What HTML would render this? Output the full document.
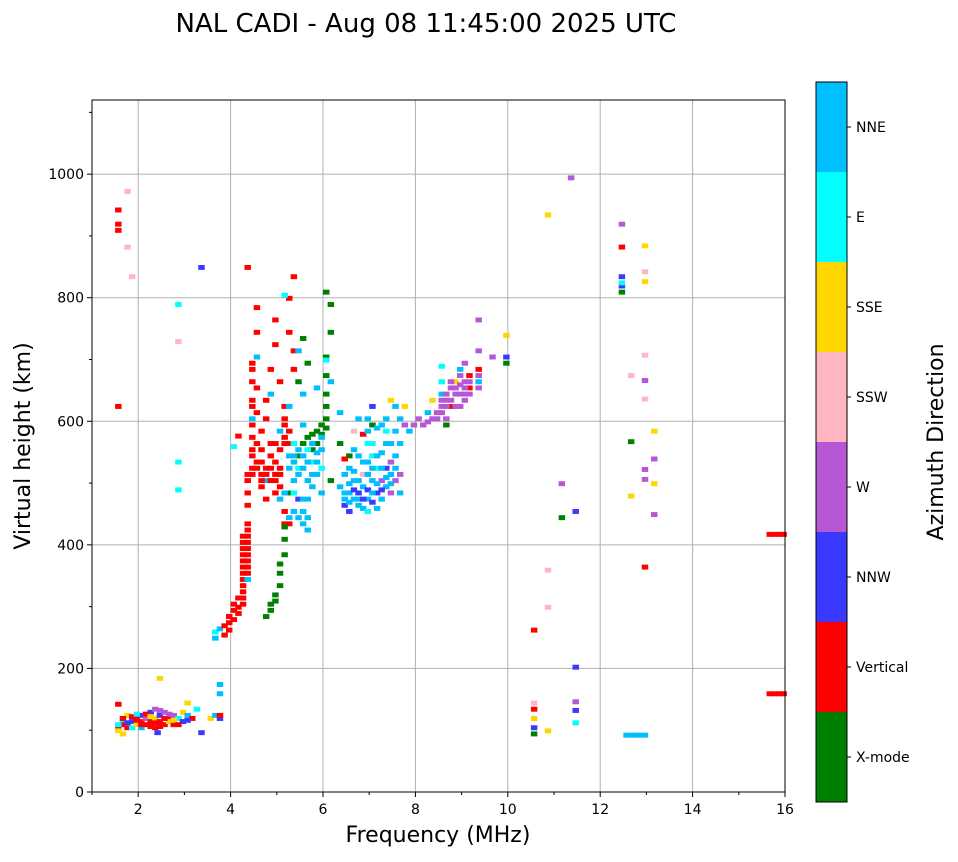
<!DOCTYPE html>
<html><head><meta charset="utf-8"><style>
body{margin:0;background:#fff;font-family:"Liberation Sans","DejaVu Sans",sans-serif;}
svg text{font-family:"DejaVu Sans","Liberation Sans",sans-serif;}
</style></head><body>
<svg id="chart" width="958" height="857" xmlns="http://www.w3.org/2000/svg">
<text x="426" y="32" font-size="26" text-anchor="middle">NAL CADI - Aug 08 11:45:00 2025 UTC</text>
<g id="grid"></g>
<g id="marks"></g>
<rect x="92" y="100" width="693" height="692" fill="none" stroke="#000" stroke-width="1"/>
<g id="axes"></g>
<text x="438" y="842" font-size="22" text-anchor="middle">Frequency (MHz)</text>
<text transform="translate(30,446) rotate(-90)" font-size="22" text-anchor="middle">Virtual height (km)</text>
<g id="cbar"></g>
<text transform="translate(943,442) rotate(-90)" font-size="22" text-anchor="middle">Azimuth Direction</text>
</svg>
<script>
const xTicks=[2,4,6,8,10,12,14,16];
const yTicks=[0,200,400,600,800,1000];
const categories=["X-mode","Vertical","NNW","W","SSW","SSE","E","NNE"];
const colors=["#008000","#ff0000","#3a3aff","#b657d6","#ffb6c1","#ffd700","#00ffff","#00bfff"];
const echoes=[
[1.5,100,1],[1.5,95,5],[1.6,110,6],[1.6,105,1],[1.7,100,1],[1.7,120,5],[1.8,110,2],[1.8,100,6],[1.9,115,1],[1.9,105,5],[2.0,110,1],[2.0,120,2],[2.1,105,1],[2.1,115,3],[2.2,110,1],[2.2,125,2],[2.3,100,1],[2.3,115,5],[2.3,130,3],[2.4,110,1],[2.4,120,2],[2.5,105,1],[2.5,125,3],[2.6,115,1],[2.6,110,5],[2.7,120,3],[2.7,105,1],[2.8,115,6],[2.9,125,5],[2.9,110,2],[3.0,140,5],[3.0,120,7],[3.1,115,1],[3.2,130,6],[3.3,92,2],[3.5,115,5],[3.6,120,7],[3.7,115,2],[3.7,120,1],[2.0,100,7],[1.6,90,5],[3.7,170,7],[3.7,155,7],[2.4,180,5],[1.5,138,1],
[1.6,115,1],[1.7,108,2],[1.8,118,1],[1.9,112,1],[2.0,105,1],[2.1,122,1],[2.2,102,1],[2.3,108,1],[2.4,102,1],[2.5,115,1],[2.6,122,3],[2.7,112,5],[2.8,105,1],[2.2,118,5],[1.9,122,6],[2.4,128,3],[3.0,112,2],[1.5,105,6],[2.35,92,2],
[1.5,938,1],[1.5,915,1],[1.5,905,1],[1.5,620,1],[1.7,968,4],[1.8,830,4],[1.7,878,4],[2.8,785,6],[2.8,725,4],[2.8,530,6],[2.8,485,6],[3.3,845,2],
[3.6,245,7],[3.6,255,6],[3.7,260,7],[3.8,250,1],[3.8,265,1],[3.9,270,1],[3.9,280,1],[4.0,290,1],[4.0,300,1],[4.1,295,1],[4.1,310,1],[4.2,320,1],[4.2,340,1],[4.2,360,1],[4.2,380,1],[4.2,400,1],[4.3,350,1],[4.3,370,1],[4.3,390,1],[4.3,410,1],[4.3,340,7],[4.3,430,1],[4.3,460,1],[4.3,500,1],[4.0,555,6],[4.1,572,1],[4.4,520,1],[4.4,540,1],[4.4,590,1],[4.4,620,1],[4.4,660,1],[4.4,690,1],[4.5,650,1],[4.5,700,7],[4.5,740,1],[4.5,780,1],[4.4,600,7],[4.5,560,1],[4.6,510,1],[4.6,530,1],[4.6,490,1],[4.7,470,1],[4.7,500,7],[4.7,520,1],[4.7,600,1],[4.7,630,1],[4.8,540,1],[4.8,500,1],[4.8,640,7],[4.8,680,1],[4.9,480,1],[4.9,510,1],[4.9,560,1],[4.9,720,1],[4.9,760,1],[5.0,520,1],[5.0,550,1],[5.0,470,7],[5.0,580,7],[5.0,660,1],[5.1,430,1],[5.1,450,1],[5.1,560,1],[5.1,600,1],[5.1,620,1],[5.2,440,7],[5.2,580,1],[5.2,740,1],[5.2,795,1],[5.3,830,1],[5.3,710,1],[5.3,680,1],[4.3,845,1],
[3.9,258,1],[4.0,275,1],[4.1,285,1],[4.2,300,1],[4.2,310,1],[4.2,330,1],[4.2,350,1],[4.2,370,1],[4.2,390,1],[4.2,410,1],[4.3,360,1],[4.3,380,1],[4.3,400,1],[4.3,420,1],[4.3,480,1],[4.3,510,1],[4.4,550,1],[4.4,570,1],[4.4,630,1],[4.4,680,1],[4.4,510,1],[4.5,610,1],[4.5,530,1],[4.6,550,1],[4.6,500,1],[4.7,510,1],[4.8,520,1],[4.9,530,1],[4.9,500,1],[5.0,510,1],[5.0,490,1],[5.1,570,1],[5.1,590,1],[5.2,560,1],[5.2,430,1],[4.5,520,1],[4.6,580,1],[4.8,560,1],
[4.7,280,0],[4.8,290,0],[4.9,305,0],[4.9,315,0],[5.0,330,0],[5.0,350,0],[5.1,380,0],[5.1,405,0],[5.1,425,0],[5.2,480,0],[5.4,540,0],[5.5,560,0],[5.6,570,0],[5.7,575,0],[5.8,580,0],[5.9,590,0],[6.0,600,0],[6.0,620,0],[6.0,640,0],[6.0,670,0],[6.0,700,0],[6.1,740,0],[6.1,785,0],[6.0,805,0],[5.6,690,0],[5.4,660,0],[5.5,730,0],[6.1,500,0],[6.3,560,0],[6.5,540,0],[7.0,590,0],[5.8,560,0],[5.9,575,0],[6.0,585,0],[5.7,550,0],[4.8,300,0],[5.0,365,0],
[5.2,520,7],[5.3,540,7],[5.3,500,7],[5.4,550,7],[5.4,520,6],[5.5,430,7],[5.5,450,7],[5.6,440,7],[5.6,470,7],[5.6,500,7],[5.7,530,6],[5.7,560,7],[5.8,545,7],[5.8,510,7],[5.9,480,7],[5.9,570,7],[5.5,590,7],[5.3,560,6],[5.4,470,2],[5.2,620,7],[5.5,640,7],[5.8,650,7],[6.1,660,7],[6.0,695,6],[5.4,710,7],[5.1,800,6],
[5.3,530,7],[5.4,510,7],[5.5,540,7],[5.5,520,7],[5.6,530,7],[5.6,550,6],[5.7,510,7],[5.7,490,7],[5.8,530,7],[5.9,550,7],[5.5,470,7],[5.4,440,7],[5.3,450,7],[5.6,420,7],[5.3,480,6],[5.2,540,7],[5.9,520,6],[5.1,480,7],
[6.3,610,7],[6.3,490,7],[6.4,470,7],[6.4,460,2],[6.5,450,2],[6.5,480,7],[6.5,520,7],[6.6,470,7],[6.6,500,7],[6.6,580,4],[6.7,460,7],[6.7,480,2],[6.7,540,7],[6.8,455,7],[6.8,490,7],[6.8,510,4],[6.9,470,7],[6.9,530,7],[6.9,600,7],[7.0,465,2],[7.0,500,7],[7.0,560,6],[7.1,480,2],[7.1,520,6],[7.1,585,7],[7.2,470,7],[7.2,500,3],[7.2,545,7],[7.3,490,7],[7.3,520,2],[7.3,600,7],[7.4,480,3],[7.4,510,7],[7.4,560,7],[7.5,500,3],[7.5,540,7],[7.5,620,7],[7.6,480,7],[7.6,600,7],[7.0,620,2],[6.7,600,7],[6.8,575,1],[6.4,535,1],[6.9,450,6],[7.1,455,7],[7.4,630,5],
[6.4,480,7],[6.5,465,7],[6.5,495,7],[6.6,485,2],[6.6,515,7],[6.7,470,7],[6.7,500,7],[6.8,470,2],[6.8,530,7],[6.9,485,2],[6.9,510,7],[6.9,560,6],[7.0,480,7],[7.0,520,7],[7.0,540,6],[7.1,495,7],[7.1,540,7],[7.2,485,2],[7.2,520,7],[7.3,505,7],[7.3,560,7],[7.3,580,6],[7.4,495,7],[7.4,530,3],[7.5,520,7],[7.5,580,7],[7.6,510,3],[7.6,560,7],[7.2,590,7],[6.6,550,7],[6.4,510,7],[6.9,580,7],
[7.7,590,3],[7.7,620,5],[7.8,580,7],[7.9,590,3],[8.0,600,3],[8.1,590,3],[8.2,595,3],[8.2,610,7],[8.3,600,3],[8.4,610,3],[8.5,620,3],[8.5,640,7],[8.5,660,6],[8.6,590,0],[8.6,630,3],[8.7,650,3],[8.7,620,1],[8.8,640,3],[8.8,660,5],[8.9,620,3],[8.9,670,3],[8.9,680,7],[9.0,640,3],[9.0,660,3],[9.0,690,3],[9.1,650,1],[9.1,670,1],[9.3,680,1],[9.3,660,7],[9.3,710,3],[9.3,760,3],[9.6,700,3],[9.9,690,0],[9.9,700,2],[9.9,735,5],[8.5,685,6],[8.3,630,5],
[8.4,600,3],[8.5,610,3],[8.5,630,3],[8.6,620,3],[8.6,640,3],[8.7,630,3],[8.7,660,3],[8.8,620,3],[8.8,650,3],[8.9,640,3],[8.9,655,3],[9.0,650,3],[9.0,630,3],[9.1,640,3],[9.1,660,3],[9.3,650,3],[9.3,670,3],[8.6,600,3],
[10.5,258,1],[10.5,140,4],[10.5,130,1],[10.5,115,5],[10.5,100,2],[10.5,90,0],[10.8,930,5],[10.8,95,5],[10.8,355,4],[10.8,295,4],[11.1,495,3],[11.1,440,0],[11.3,990,3],[11.4,450,2],[11.4,198,2],[11.4,142,3],[11.4,108,6],[11.4,128,2],[12.4,915,3],[12.4,878,1],[12.4,830,2],[12.4,815,2],[12.4,805,0],[12.4,820,6],[12.6,563,0],[12.6,670,4],[12.6,475,5],[12.9,880,5],[12.9,838,4],[12.9,822,5],[12.9,703,4],[12.9,662,3],[12.9,632,4],[12.9,518,3],[12.9,502,3],[12.9,360,1],[13.1,580,5],[13.1,535,3],[13.1,495,5],[13.1,445,3],
[15.6,413,1],[15.7,413,1],[15.8,413,1],[15.9,413,1],[15.6,155,1],[15.7,155,1],[15.8,155,1],[15.9,155,1],
[12.5,88,7],[12.6,88,7],[12.7,88,7],[12.8,88,7],[12.9,88,7]
];
const NS="http://www.w3.org/2000/svg";
const X0=92,X1=785,Y0=792,Y1=100,XMIN=1,XMAX=16,YMIN=0,YMAX=1120;
function sx(f){return X0+(f-XMIN)/(XMAX-XMIN)*(X1-X0);}
function sy(h){return Y0-(h-YMIN)/(YMAX-YMIN)*(Y0-Y1);}
function mk(t,a,p){const e=document.createElementNS(NS,t);for(const k in a)e.setAttribute(k,a[k]);p.appendChild(e);return e;}
const grid=document.getElementById('grid'),axes=document.getElementById('axes'),marks=document.getElementById('marks'),cbar=document.getElementById('cbar');
xTicks.forEach(v=>{const x=sx(v);
 if(v<16){const l=mk('line',{x1:x,x2:x,y1:Y1,y2:Y0,stroke:'#b0b0b0','stroke-width':1},grid);
 
 }
 mk('line',{x1:x,x2:x,y1:Y0,y2:Y0+5,stroke:'#000'},axes);
 const t=mk('text',{x:x,y:Y0+22,'font-size':14,'text-anchor':'middle'},axes);t.textContent=v;
 
 
});
for(let v=1;v<16;v+=2){const x=sx(v);mk('line',{x1:x,x2:x,y1:Y0,y2:Y0+3,stroke:'#000'},axes);}
yTicks.forEach(v=>{const y=sy(v);
 if(v>0){const l=mk('line',{x1:X0,x2:X1,y1:y,y2:y,stroke:'#b0b0b0','stroke-width':1},grid);
 
 }
 mk('line',{x1:X0-5,x2:X0,y1:y,y2:y,stroke:'#000'},axes);
 const t=mk('text',{x:X0-8,y:y+5,'font-size':14,'text-anchor':'end'},axes);t.textContent=v;
 
 
});
for(let v=100;v<1120;v+=200){const y=sy(v);mk('line',{x1:X0-3,x2:X0,y1:y,y2:y,stroke:'#000'},axes);}
const cw=sx(1.14)-sx(1),ch=sy(0)-sy(8);
echoes.forEach(p=>{
 const r=mk('rect',{x:sx(p[0]),y:sy(p[1])-ch,width:cw,height:ch,fill:colors[p[2]]},marks);
 
 
});
const CX=816,CW=31,CT=82,CB=802,seg=(CB-CT)/categories.length;
categories.forEach((c,i)=>{
 const y=CB-(i+1)*seg;
 const r=mk('rect',{x:CX,y:y,width:CW,height:seg,fill:colors[i]},cbar);
 
 
 const yc=y+seg/2;
 mk('line',{x1:CX+CW,x2:CX+CW+4,y1:yc,y2:yc,stroke:'#000'},cbar);
 const t=mk('text',{x:CX+CW+9,y:yc+5,'font-size':14},cbar);t.textContent=c;
 
 
});
mk('rect',{x:CX,y:CT,width:CW,height:CB-CT,fill:'none',stroke:'#000'},cbar);
</script>
</body></html>
